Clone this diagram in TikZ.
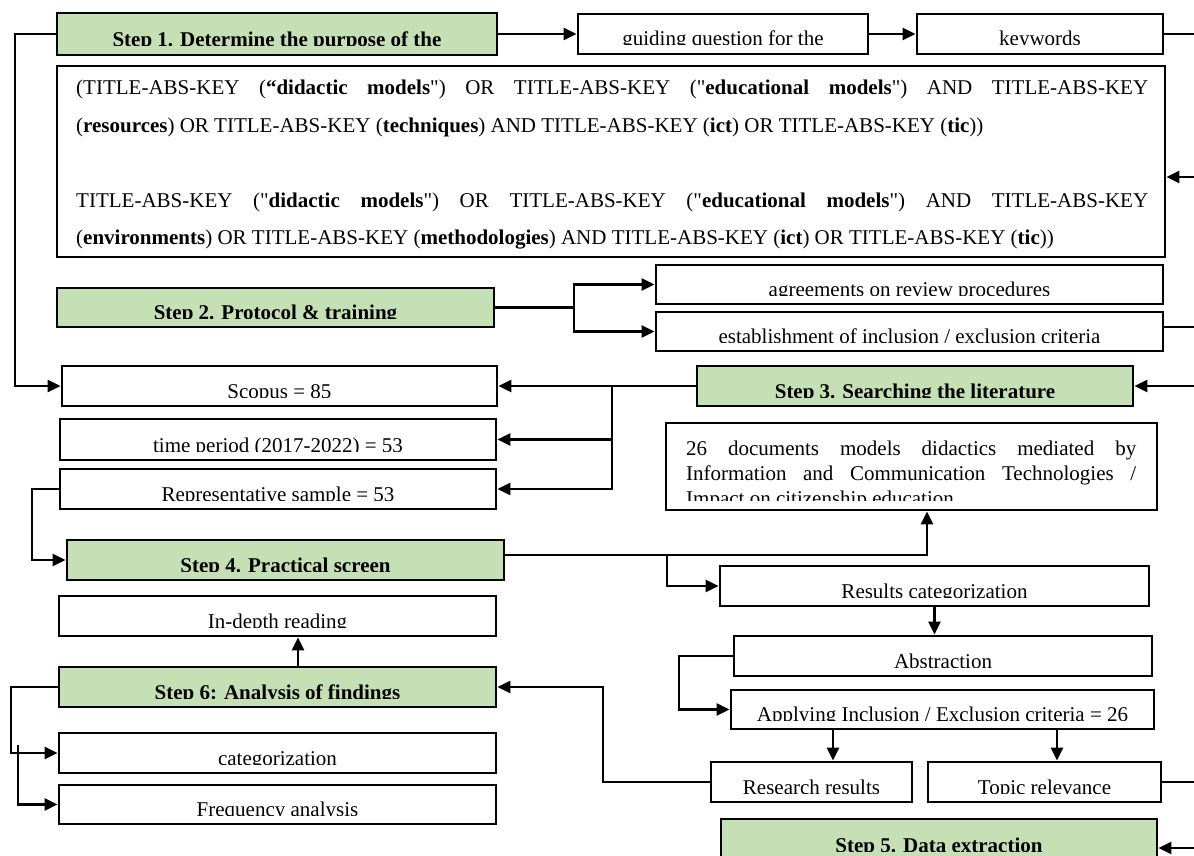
\documentclass[tikz,border=0pt]{standalone}
\usepackage{fontspec}
\setmainfont{Liberation Serif}[Ligatures=TeXOff]
\usetikzlibrary{arrows.meta,fit,calc}
\definecolor{stepgreen}{RGB}{197,224,180}
\tikzset{
  box/.style={draw, line width=2.9pt, fill=white, inner sep=0pt},
  stepbox/.style={box, fill=stepgreen},
  lbl/.style={path picture={
     \clip ([yshift=9pt]path picture bounding box.south west) rectangle (path picture bounding box.north east);
     \node[anchor=base, inner sep=0pt, font=\fontsize{21}{25}\selectfont] at ([yshift=8pt]path picture bounding box.south) {#1};
  }},
  con/.style={line width=2.5pt},
  arr/.style={con, -{Triangle[length=13pt,width=12pt]}},
}
\begin{document}
\begin{tikzpicture}[x=1pt,y=-1pt]
\useasboundingbox (0,0) rectangle (1194,856);
\clip (0,0) rectangle (1194,856);
\fill[white] (0,0) rectangle (1194,856);

% boxes
\node[stepbox, fit={(57,13) (497,55)}, lbl={\textbf{Step 1. Determine the purpose of the}}] (s1) {};
\node[box, fit={(578,14) (868,54)}, lbl={guiding question for the}] (guide) {};
\node[box, fit={(917,14) (1163,54)}, lbl={keywords}] (kw) {};
\node[box, fit={(57,66) (1165,257)}] (query) {};
\node[stepbox, fit={(57,288) (494,327)}, lbl={\textbf{Step 2. Protocol \& training}}] (s2) {};
\node[box, fit={(656,265) (1163,304)}, lbl={agreements on review procedures}] (agr) {};
\node[box, fit={(656,312) (1163,351)}, lbl={establishment of inclusion / exclusion criteria}] (est) {};
\node[stepbox, fit={(697,366) (1133,406)}, lbl={\textbf{Step 3. Searching the literature}}] (s3) {};
\node[box, fit={(62,366) (497,406)}, lbl={Scopus = 85}] (scopus) {};
\node[box, fit={(60,419) (496,460)}, lbl={time period (2017-2022) = 53}] (time) {};
\node[box, fit={(60,469) (496,509)}, lbl={Representative sample = 53}] (rep) {};
\node[box, fit={(666,423) (1157,510)}] (docs) {};
\node[stepbox, fit={(67,540) (504,580)}, lbl={\textbf{Step 4. Practical screen}}] (s4) {};
\node[box, fit={(59,596) (496,636)}, lbl={In-depth reading}] (indepth) {};
\node[stepbox, fit={(59,667) (496,707)}, lbl={\textbf{Step 6: Analysis of findings}}] (s6) {};
\node[box, fit={(59,733) (496,773)}, lbl={categorization}] (cat) {};
\node[box, fit={(59,785) (496,824)}, lbl={Frequency analysis}] (freq) {};
\node[box, fit={(720,566) (1149,606)}, lbl={Results categorization}] (rescat) {};
\node[box, fit={(734,636) (1152,676)}, lbl={Abstraction}] (abs) {};
\node[box, fit={(731,690) (1154,729)}, lbl={Applying Inclusion / Exclusion criteria = 26}] (apply) {};
\node[box, fit={(711,762) (912,802)}, lbl={Research results}] (research) {};
\node[box, fit={(928,762) (1161,802)}, lbl={Topic relevance}] (topic) {};
\node[stepbox, fit={(721,819) (1157,860)}, lbl={\textbf{Step 5. Data extraction}}] (s5) {};

% query text
\node[anchor=base west, inner sep=0pt, text width=1072pt, align=justify,
      font=\fontsize{21}{37.5}\selectfont] (qtext) at (76,95)
{(TITLE-ABS-KEY (\textbf{“didactic models}") OR TITLE-ABS-KEY ("\textbf{educational models}") AND TITLE-ABS-KEY\linebreak
(\textbf{resources}) OR TITLE-ABS-KEY (\textbf{techniques}) AND TITLE-ABS-KEY (\textbf{ict}) OR TITLE-ABS-KEY (\textbf{tic}))\par
\mbox{}\par
TITLE-ABS-KEY ("\textbf{didactic models}") OR TITLE-ABS-KEY ("\textbf{educational models}") AND TITLE-ABS-KEY\linebreak
(\textbf{environments}) OR TITLE-ABS-KEY (\textbf{methodologies}) AND TITLE-ABS-KEY (\textbf{ict}) OR TITLE-ABS-KEY (\textbf{tic}))};

% 26 documents text (clipped as in the reference)
\begin{scope}
\clip (666,423) rectangle (1157,500);
\node[anchor=base west, inner sep=0pt, text width=450pt, align=justify,
      font=\fontsize{21}{25}\selectfont] (dtext) at (686,455)
{26 documents models didactics mediated by\linebreak Information and Communication Technologies /\linebreak Impact on citizenship education};
\end{scope}

% helper coordinates
\coordinate (e1) at (1194,34);
\coordinate (e2) at (1194,177);
\coordinate (e3) at (1194,327);
\coordinate (e4) at (1194,386);
\coordinate (e5) at (1194,782);
\coordinate (e6) at (1194,848);
\coordinate (j2) at (574,307.5);
\coordinate (j3) at (612,386);
\coordinate (l1) at (15,0);
\coordinate (l2) at (32,0);
\coordinate (d1) at (927,0);
\coordinate (j4) at (667,0);
\coordinate (l3) at (679,0);
\coordinate (x1) at (833,0);
\coordinate (x3) at (1057,0);
\coordinate (l4) at (603,0);
\coordinate (x2) at (298,0);
\coordinate (l5) at (11,0);
\coordinate (l6) at (18,745);
\coordinate (h4) at (0,555);

% connectors
\draw[arr] (s1.east) -- (guide.west);
\draw[arr] (guide.east) -- (kw.west);
\draw[con] (kw.east) -- (e1);
\draw[arr] (e2) -- (e2 -| query.east);
\draw[con] (s2.east) -- (j2);
\draw[arr] (j2) |- (agr.west);
\draw[arr] (j2) |- (est.west);
\draw[con] (e3 -| est.east) -- (e3);
\draw[arr] (e4) -- (e4 -| s3.east);
\draw[arr] (s3.west) -- (s3.west -| scopus.east);
\draw[arr] (j3) |- (time.east);
\draw[arr] (j3) |- (rep.east);
\draw[arr] (s1.west) -- (s1.west -| l1) |- (scopus.west);
\draw[arr] (rep.west) -- (rep.west -| l2) |- (s4.west);
\draw[arr] (h4 -| s4.east) -- (h4 -| d1) -- (d1 |- docs.south);
\draw[arr] (h4 -| j4) |- (rescat.west);
\draw[arr] (rescat.south) -- (rescat.south |- abs.north);
\draw[arr] (abs.west) -- (abs.west -| l3) |- (apply.west);
\draw[arr] (x1 |- apply.south) -- (x1 |- research.north);
\draw[arr] (x3 |- apply.south) -- (x3 |- topic.north);
\draw[arr] (research.west) -- (research.west -| l4) |- (s6.east);
\draw[con] (topic.east) -- (e5);
\draw[arr] (e6) -- (e6 -| s5.east);
\draw[arr] (x2 |- s6.north) -- (x2 |- indepth.south);
\draw[arr] (s6.west) -- (s6.west -| l5) |- (cat.west);
\draw[arr] (l6) |- (freq.west);
\end{tikzpicture}
\end{document}
